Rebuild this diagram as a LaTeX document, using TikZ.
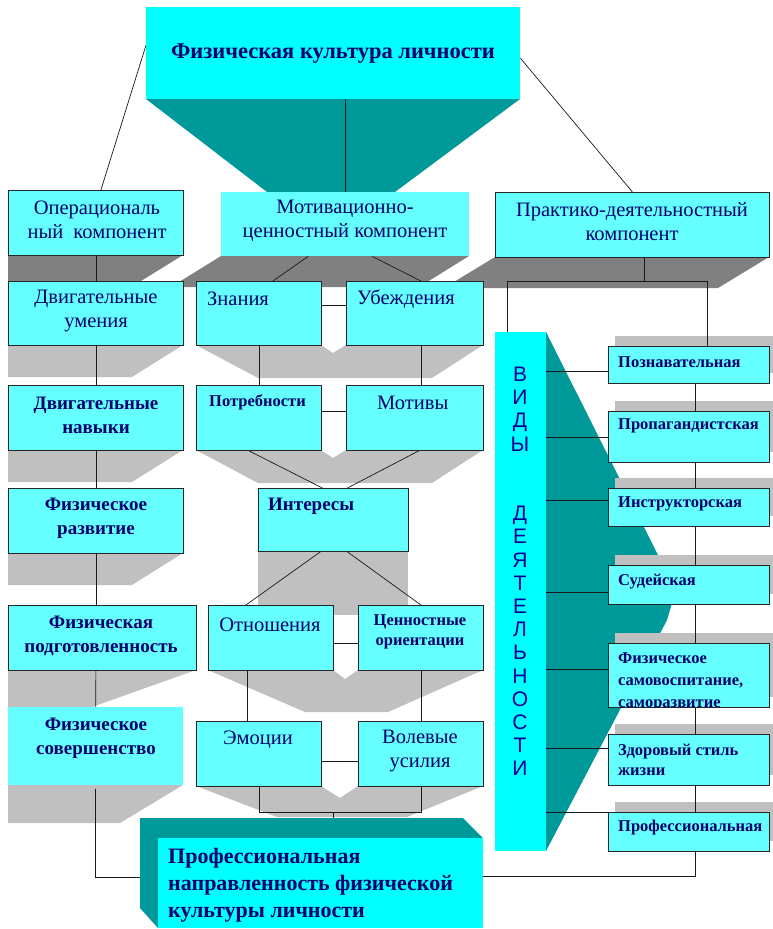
\documentclass[tikz,border=0pt]{standalone}
\usepackage{fontspec}
\setmainfont{Liberation Serif}
\newfontfamily\vidfont{Liberation Sans}
\usetikzlibrary{calc}
\definecolor{cyL}{RGB}{102,255,255}
\definecolor{cyT}{RGB}{0,255,255}
\definecolor{tealC}{RGB}{0,153,153}
\definecolor{dg}{RGB}{128,128,128}
\definecolor{lg}{RGB}{192,192,192}
\definecolor{navyT}{RGB}{0,0,110}
\definecolor{vidblue}{RGB}{0,0,150}
\pgfdeclarelayer{bg}\pgfdeclarelayer{mid}\pgfsetlayers{bg,mid,main}
\newcommand\fsz[2]{\fontsize{#1}{#2}\selectfont}
\begin{document}
\begin{tikzpicture}[x=1pt,y=-1pt,
  bx/.style={draw=black!85, line width=0.8pt, fill=cyL, inner sep=0pt, anchor=north west},
  nbx/.style={fill=cyL, inner sep=0pt, anchor=north west},
  hbx/.style={fill=cyT, inner sep=0pt, anchor=north west},
  wh/.style 2 args={minimum width=#1pt, minimum height=#2pt},
  tx/.style={text=navyT, inner sep=0pt, align=center, font=\fsz{20.5}{24}},
  txb/.style={text=navyT, inner sep=0pt, align=center, font=\bfseries\fsz{19}{24}},
  txl/.style={text=navyT, inner sep=0pt, anchor=west, font=\fsz{20.5}{24}},
  txs/.style={text=navyT, inner sep=0pt, align=left, anchor=west, font=\bfseries\fsz{16.5}{21}},
  ln/.style={draw=black!90, line width=0.7pt}]
\useasboundingbox (0,0) rectangle (773,929);
\begin{pgfonlayer}{bg}
\fill[white] (0,0) rectangle (773,929);
\fill[tealC] (146,99) -- (520,99) -- (395,192) -- (267,192) -- cycle;
\fill[dg] (8,255) -- (183,255) -- (141,281) -- (8,281) -- cycle;
\fill[dg] (221,256) -- (469,256) -- (419,287) -- (171,287) -- cycle;
\fill[dg] (495,257) -- (769,257) -- (718,288) -- (444,288) -- cycle;
\fill[lg] (8,345) -- (183,345) -- (132,377) -- (8,377) -- cycle;
\fill[lg] (8,450) -- (183,450) -- (132,482) -- (8,482) -- cycle;
\fill[lg] (8,553) -- (183,553) -- (132,585) -- (8,585) -- cycle;
\fill[lg] (8,670) -- (196,670) -- (92,707) -- (8,707) -- cycle;
\fill[lg] (8,785) -- (183,785) -- (120,823) -- (8,823) -- cycle;
\fill[lg] (196,345) -- (321,345) -- (333,353) -- (346,345) -- (483,345) -- (432,378) -- (258,378) -- cycle;
\fill[lg] (196,450) -- (321,450) -- (333,458) -- (346,450) -- (483,450) -- (432,483) -- (258,483) -- cycle;
\fill[lg] (258,551) rectangle (408,615);
\fill[lg] (208,670) -- (333,670) -- (345,679) -- (358,670) -- (483,670) -- (388,712) -- (305,712) -- cycle;
\fill[lg] (196,786) -- (321,786) -- (340,798) -- (358,786) -- (483,786) -- (407,817) -- (277,817) -- cycle;
\fill[tealC] (546,332) -- (668,575) -- (673,600) -- (667,620) -- (546,851) -- cycle;
\foreach \a/\b in {346/383, 411/462, 488/526, 565/604, 643/707, 734/785, 812/851}
  \fill[lg] (615,\a-10) rectangle (773,\b-10);
\end{pgfonlayer}

% top and component boxes
\node[hbx, wh={374}{92}] (top) at (146,7) {};
\node[bx, wh={175}{65}] (op) at (8,190) {};
\node[nbx, wh={248}{64}] (mot) at (221,192) {};
\node[bx, wh={274}{65}] (prac) at (495,192) {};
% left column
\node[bx, wh={175}{64}] (du) at (8,281) {};
\node[bx, wh={175}{65}] (dn) at (8,385) {};
\node[bx, wh={175}{65}] (fr) at (8,488) {};
\node[bx, wh={188}{65}] (fp) at (8,605) {};
\node[nbx, wh={175}{78}] (fs) at (8,707) {};
% middle column
\node[bx, wh={125}{64}] (zn) at (196,281) {};
\node[bx, wh={137}{64}] (ub) at (346,281) {};
\node[bx, wh={125}{65}] (pot) at (196,385) {};
\node[bx, wh={137}{65}] (mv) at (346,385) {};
\node[bx, wh={150}{63}] (int) at (258,488) {};
\node[bx, wh={125}{65}] (ot) at (208,605) {};
\node[bx, wh={125}{65}] (cen) at (358,605) {};
\node[bx, wh={125}{65}] (em) at (196,721) {};
\node[bx, wh={125}{65}] (vol) at (358,721) {};
% right column
\node[hbx, wh={51}{519}] (vid) at (495,332) {};
\node[bx, wh={161}{37}] (pozn) at (608,346) {};
\node[bx, wh={161}{51}] (prop) at (608,411) {};
\node[bx, wh={161}{38}] (instr) at (608,488) {};
\node[bx, wh={161}{39}] (sud) at (608,565) {};
\node[bx, wh={161}{64}] (fsv) at (608,643) {};
\node[bx, wh={161}{51}] (zdr) at (608,734) {};
\node[bx, wh={161}{39}] (prof) at (608,812) {};
% final box
\fill[tealC] (140,818) -- (463,818) -- (483,838) -- (158,838) -- (158,928) -- (140,908) -- cycle;
\node[hbx, wh={325}{90}] (fin) at (158,838) {};

% texts
\node[txb, font=\bfseries\fsz{22.5}{28}] (t-top) at (333,54) {Физическая культура личности};
\node[tx] (t-op) at (97,220) {Операциональ\\ный\ \ компонент};
\node[tx] (t-mot) at (345,221) {Мотивационно-\\ценностный компонент};
\node[tx] (t-prac) at (632,222) {Практико-деятельностный\\компонент};
\node[tx] (t-du) at (96,311) {Двигательные\\умения};
\node[txb] (t-dn) at (96,415) {Двигательные\\навыки};
\node[txb] (t-fr) at (96,518) {Физическое\\развитие};
\node[txb] (t-fp) at (101,636) {Физическая\\подготовленность};
\node[txb] (t-fs) at (96,738) {Физическое\\совершенство};
\node[txl] (t-zn) at (207,299) {Знания};
\node[txl] (t-ub) at (357,299) {Убеждения};
\node[txs] (t-pot) at (209,402) {Потребности};
\node[txl] (t-mv) at (377,403) {Мотивы};
\node[txl, font=\bfseries\fsz{19}{24}] (t-int) at (268,506) {Интересы};
\node[tx] (t-ot) at (270,625) {Отношения};
\node[txb, font=\bfseries\fsz{16.5}{20}] (t-cen) at (420,632) {Ценностные\\ориентации};
\node[tx] (t-em) at (258,740) {Эмоции};
\node[tx] (t-vol) at (420,751) {Волевые\\усилия};
\node[txs] (t-pozn) at (618,362) {Познавательная};
\node[txs] (t-prop) at (618,426) {Пропагандистская};
\node[txs] (t-instr) at (618,504) {Инструкторская};
\node[txs] (t-sud) at (618,582) {Судейская};
\begin{scope}
\clip (fsv.north west) rectangle (fsv.south east);
\node[txs, anchor=north west, font=\bfseries\fsz{16.5}{22}] (t-fsv) at (618,652) {Физическое\\самовоспитание,\\саморазвитие};
\end{scope}
\node[txs, font=\bfseries\fsz{16.5}{20.5}] (t-zdr) at (618,760) {Здоровый стиль\\жизни};
\node[txs] (t-prof) at (618,828) {Профессиональная};
\node[text=navyT, inner sep=0pt, align=left, anchor=west, font=\bfseries\fsz{22}{27}] (t-fin) at (168,885) {Профессиональная\\направленность физической\\культуры личности};
\node[text=vidblue, inner sep=0pt, align=center, font=\vidfont\fsz{21}{23.2}] (t-vid1) at (520,409) {В\\И\\Д\\Ы};
\node[text=vidblue, inner sep=0pt, align=center, font=\vidfont\fsz{21}{23.2}] (t-vid2) at (520,641) {Д\\Е\\Я\\Т\\Е\\Л\\Ь\\Н\\О\\С\\Т\\И};

% connectors
\begin{pgfonlayer}{mid}
\draw[ln] ([yshift=8pt]top.west) -- ([xshift=5pt]op.north);
\draw[ln] ([yshift=-5pt]top.east) -- (prac.north);
\draw[ln] (top.south -| mot.north) -- (mot.north);
% left chain
\draw[ln] (op.south) -- (du.north);
\draw[ln] (du.south) -- (dn.north);
\draw[ln] (dn.south) -- (fr.north);
\draw[ln] (fr.south) -- (fr.south |- fp.north);
\draw[ln] (fp.south -| fr.south) -- (fs.north);
\draw[ln] ([yshift=-4pt]fs.south) |- ([yshift=6pt]fin.west);
% middle
\draw[ln] ([xshift=-37pt]mot.south) -- ([xshift=14pt]zn.north);
\draw[ln] ([xshift=27pt]mot.south) -- ([xshift=6pt]ub.north);
\draw[ln] ([yshift=8pt]zn.east) -- ([yshift=8pt]zn.east -| ub.west);
\draw[ln] (zn.south) -- (pot.north);
\draw[ln] ([xshift=6pt]ub.south) -- ([xshift=6pt]mv.north);
\draw[ln] ([yshift=7pt]pot.east) -- ([yshift=7pt]pot.east -| mv.west);
\draw[ln] ([xshift=-10pt]pot.south) -- ([xshift=-11pt]int.north);
\draw[ln] ([xshift=4pt]mv.south) -- ([xshift=14pt]int.north);
\draw[ln] ([xshift=-13pt]int.south) -- ([xshift=-25pt]ot.north);
\draw[ln] ([xshift=14pt]int.south) -- (cen.north);
\draw[ln] ([yshift=-5pt]ot.east) -- ([yshift=-5pt]ot.east -| cen.west);
\draw[ln] ([xshift=-24pt]ot.south) -- ([xshift=-24pt]ot.south |- em.north);
\draw[ln] (cen.south) -- (vol.north);
\draw[ln] ([yshift=-7pt]em.east) -- ([yshift=-7pt]em.east -| vol.west);
\coordinate (bj) at (333,812);
\draw[ln] (em.south) |- (bj) -| (vol.south);
\draw[ln] (bj) -- (bj |- fin.north);
% right
\coordinate (rj) at (644,281);
\coordinate (rjl) at (507,281);
\coordinate (rjr) at (707,281);
\coordinate (rc) at (695,0);
\draw[ln] (rj |- prac.south) -- (rj);
\draw[ln] (rjl |- vid.north) -- (rjl) -- (rjr) -- (rjr |- pozn.north);
\draw[ln] (rc |- pozn.south) -- (rc |- prof.south);
\draw[ln] (rc |- prof.south) |- ([yshift=7pt]fin.east);
\draw[ln] ([yshift=-6pt]pozn.west -| vid.east) -- ([yshift=-6pt]pozn.west);
\draw[ln] (prop.west -| vid.east) -- (prop.west);
\draw[ln] ([yshift=7pt]instr.west -| vid.east) -- ([yshift=7pt]instr.west);
\draw[ln] ([yshift=-7pt]sud.west -| vid.east) -- ([yshift=-7pt]sud.west);
\draw[ln] ([yshift=6pt]fsv.west -| vid.east) -- ([yshift=6pt]fsv.west);
\draw[ln] ([yshift=12pt]zdr.west -| vid.east) -- ([yshift=12pt]zdr.west);
\draw[ln] (prof.north west -| vid.east) -- (prof.north west);
\end{pgfonlayer}
\end{tikzpicture}
\end{document}
